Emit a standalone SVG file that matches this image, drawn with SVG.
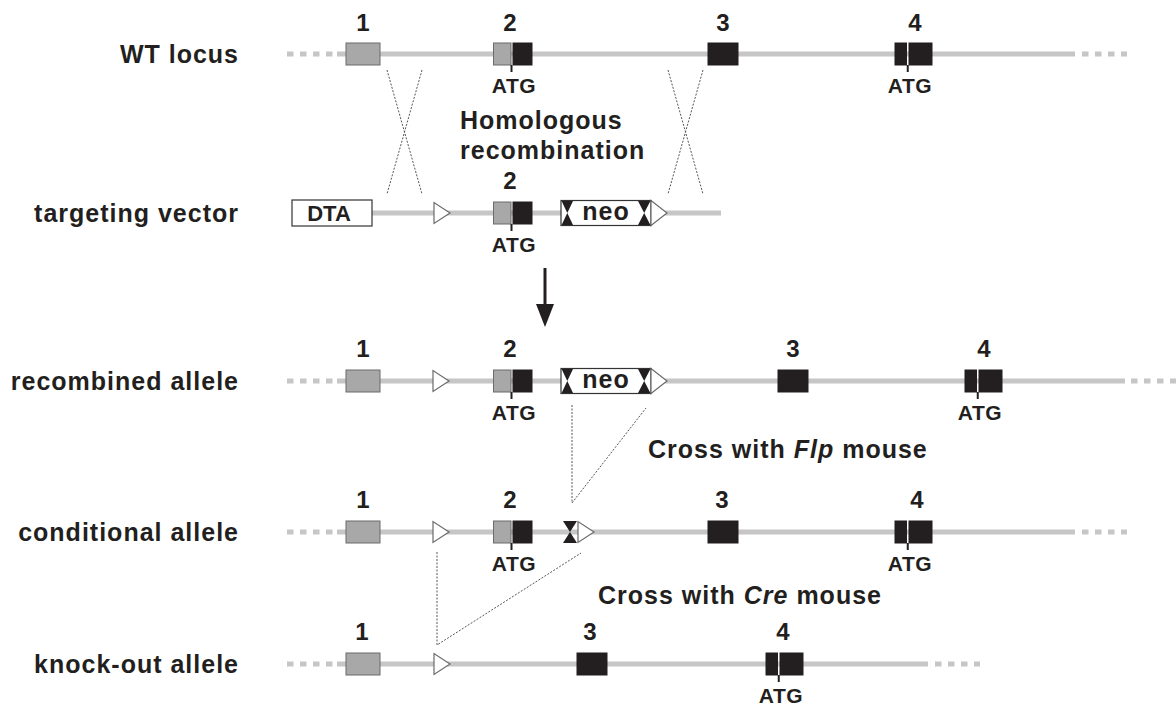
<svg xmlns="http://www.w3.org/2000/svg" xmlns:xlink="http://www.w3.org/1999/xlink" width="1176" height="707" viewBox="0 0 1176 707">
  <style>
    text { font-family: "Liberation Sans", Arial, Helvetica, sans-serif; font-weight: bold; fill: #231f20; }
    .label { font-size: 25px; letter-spacing: 1px; text-anchor: end; }
    .num { font-size: 24px; text-anchor: middle; }
    .atg { font-size: 21px; letter-spacing: 0.5px; text-anchor: middle; }
    .note { font-size: 25px; letter-spacing: 1px; }
    .box-text { font-size: 25px; letter-spacing: 1px; text-anchor: middle; }
    .dta-text { font-size: 22px; text-anchor: middle; }
    .dna { stroke: #c6c6c6; stroke-width: 5; fill: none; }
    .dna-dots { stroke: #c6c6c6; stroke-width: 5; fill: none; stroke-dasharray: 6.5 6.5; }
    .ex-gray { fill: #a8a8a8; stroke: #6b6b6b; stroke-width: 1; }
    .ex-black { fill: #231f20; stroke: #231f20; stroke-width: 1; }
    .tick { stroke: #231f20; stroke-width: 2; }
    .loxp { fill: #ffffff; stroke: #6b6b6b; stroke-width: 1.2; }
    .frt { fill: #231f20; }
    .cassette { fill: #ffffff; stroke: #333333; stroke-width: 1.2; }
    .xover { stroke: #555555; stroke-width: 1; stroke-dasharray: 2 1.5; fill: none; }
  </style>
  <defs>
    <!-- shapes are drawn around a local origin: x = left edge, y = DNA axis -->
    <rect id="exon1" x="0" y="-11" width="34" height="22" class="ex-gray"/>
    <g id="exon2">
      <rect x="0.5" y="-11" width="17.5" height="22" class="ex-gray"/>
      <rect x="20" y="-11" width="19" height="22" class="ex-black"/>
      <line x1="18.5" y1="11" x2="18.5" y2="18" class="tick"/>
    </g>
    <rect id="exon3" x="0" y="-11" width="30" height="22" class="ex-black"/>
    <g id="exon4">
      <rect x="0" y="-11" width="11.5" height="22" class="ex-black"/>
      <rect x="14" y="-11" width="23" height="22" class="ex-black"/>
      <line x1="12.75" y1="11" x2="12.75" y2="18" class="tick"/>
    </g>
    <polygon id="loxp" points="0,-10.5 0,10.5 16,0" class="loxp"/>
    <polygon id="frt" points="0,-11 14,-11 7,0 14,11 0,11 7,0" class="frt"/>
    <g id="neo">
      <rect x="0" y="-12.5" width="90" height="25" class="cassette"/>
      <polygon points="0.6,-12 12,-12 6.3,0 12,12 0.6,12 6.3,0" class="frt"/>
      <polygon points="77,-12 89.4,-12 83.2,0 89.4,12 77,12 83.2,0" class="frt"/>
      <polygon points="90,-12.5 90,12.5 106,0" class="loxp"/>
      <text x="45" y="7" class="box-text">neo</text>
    </g>
  </defs>

  <!-- row labels -->
  <g id="row-labels">
    <text x="239" y="63" class="label">WT locus</text>
    <text x="239" y="222" class="label">targeting vector</text>
    <text x="239" y="390" class="label">recombined allele</text>
    <text x="239" y="541" class="label">conditional allele</text>
    <text x="239" y="673" class="label">knock-out allele</text>
  </g>

  <!-- wild-type locus -->
  <g id="wt-locus">
    <line x1="287" y1="54" x2="334" y2="54" class="dna-dots"/>
    <line x1="337" y1="54" x2="1075" y2="54" class="dna"/>
    <line x1="1082" y1="54" x2="1127" y2="54" class="dna-dots"/>
    <use xlink:href="#exon1" x="346" y="54"/>
    <use xlink:href="#exon2" x="493" y="54"/>
    <use xlink:href="#exon3" x="708" y="54"/>
    <use xlink:href="#exon4" x="895" y="54"/>
    <text x="363" y="31" class="num">1</text>
    <text x="510" y="31" class="num">2</text>
    <text x="723" y="31" class="num">3</text>
    <text x="915" y="31" class="num">4</text>
    <text x="514" y="93" class="atg">ATG</text>
    <text x="910" y="93" class="atg">ATG</text>
  </g>

  <!-- targeting vector -->
  <g id="targeting-vector">
    <line x1="372" y1="213" x2="721" y2="213" class="dna"/>
    <g id="dta">
      <rect x="292" y="200" width="80" height="26" class="cassette"/>
      <text x="329" y="221" class="dta-text">DTA</text>
    </g>
    <use xlink:href="#loxp" x="434" y="213"/>
    <use xlink:href="#exon2" x="493" y="213"/>
    <use xlink:href="#neo" x="561" y="213"/>
    <text x="510" y="189" class="num">2</text>
    <text x="514" y="252" class="atg">ATG</text>
  </g>

  <!-- recombined allele -->
  <g id="recombined-allele">
    <line x1="287" y1="381" x2="334" y2="381" class="dna-dots"/>
    <line x1="337" y1="381" x2="1125" y2="381" class="dna"/>
    <line x1="1131" y1="381" x2="1176" y2="381" class="dna-dots"/>
    <use xlink:href="#exon1" x="346" y="381"/>
    <use xlink:href="#loxp" x="433" y="381"/>
    <use xlink:href="#exon2" x="493" y="381"/>
    <use xlink:href="#neo" x="561" y="381"/>
    <use xlink:href="#exon3" x="778" y="381"/>
    <use xlink:href="#exon4" x="965" y="381"/>
    <text x="363" y="357" class="num">1</text>
    <text x="510" y="357" class="num">2</text>
    <text x="793" y="357" class="num">3</text>
    <text x="984" y="357" class="num">4</text>
    <text x="514" y="420" class="atg">ATG</text>
    <text x="980" y="420" class="atg">ATG</text>
  </g>

  <!-- conditional allele -->
  <g id="conditional-allele">
    <line x1="287" y1="532" x2="334" y2="532" class="dna-dots"/>
    <line x1="337" y1="532" x2="1075" y2="532" class="dna"/>
    <line x1="1082" y1="532" x2="1127" y2="532" class="dna-dots"/>
    <use xlink:href="#exon1" x="346" y="532"/>
    <use xlink:href="#loxp" x="433" y="532"/>
    <use xlink:href="#exon2" x="493" y="532"/>
    <use xlink:href="#frt" x="563" y="532"/>
    <use xlink:href="#loxp" x="578" y="532"/>
    <use xlink:href="#exon3" x="708" y="532"/>
    <use xlink:href="#exon4" x="895" y="532"/>
    <text x="363" y="508" class="num">1</text>
    <text x="510" y="508" class="num">2</text>
    <text x="722" y="508" class="num">3</text>
    <text x="917" y="508" class="num">4</text>
    <text x="514" y="571" class="atg">ATG</text>
    <text x="910" y="571" class="atg">ATG</text>
  </g>

  <!-- knock-out allele -->
  <g id="knockout-allele">
    <line x1="287" y1="664" x2="334" y2="664" class="dna-dots"/>
    <line x1="337" y1="664" x2="928" y2="664" class="dna"/>
    <line x1="935" y1="664" x2="980" y2="664" class="dna-dots"/>
    <use xlink:href="#exon1" x="346" y="664"/>
    <use xlink:href="#loxp" x="434" y="664"/>
    <use xlink:href="#exon3" x="577" y="664"/>
    <use xlink:href="#exon4" x="766" y="664"/>
    <text x="362" y="640" class="num">1</text>
    <text x="590" y="640" class="num">3</text>
    <text x="783" y="640" class="num">4</text>
    <text x="781" y="703" class="atg">ATG</text>
  </g>

  <!-- step annotations -->
  <g id="step-notes">
    <text x="460" y="129" class="note">Homologous</text>
    <text x="460" y="159" class="note">recombination</text>
    <text x="648" y="458" class="note">Cross with <tspan font-style="italic">Flp</tspan> mouse</text>
    <text x="598" y="604" class="note">Cross with <tspan font-style="italic">Cre</tspan> mouse</text>
  </g>

  <!-- connectors: crossover lines, excision lines, process arrow -->
  <g id="connectors">
    <line x1="387" y1="70" x2="422" y2="194" class="xover"/>
    <line x1="422" y1="70" x2="387" y2="194" class="xover"/>
    <line x1="703" y1="70" x2="668" y2="194" class="xover"/>
    <line x1="668" y1="70" x2="703" y2="194" class="xover"/>
    <polyline points="572,405 572,503 646,408" class="xover"/>
    <polyline points="437,552 437,645 581,553" class="xover"/>
    <line x1="545" y1="268" x2="545" y2="306" stroke="#231f20" stroke-width="3"/>
    <polygon points="536,304 554,304 545,327" fill="#231f20"/>
  </g>
</svg>
